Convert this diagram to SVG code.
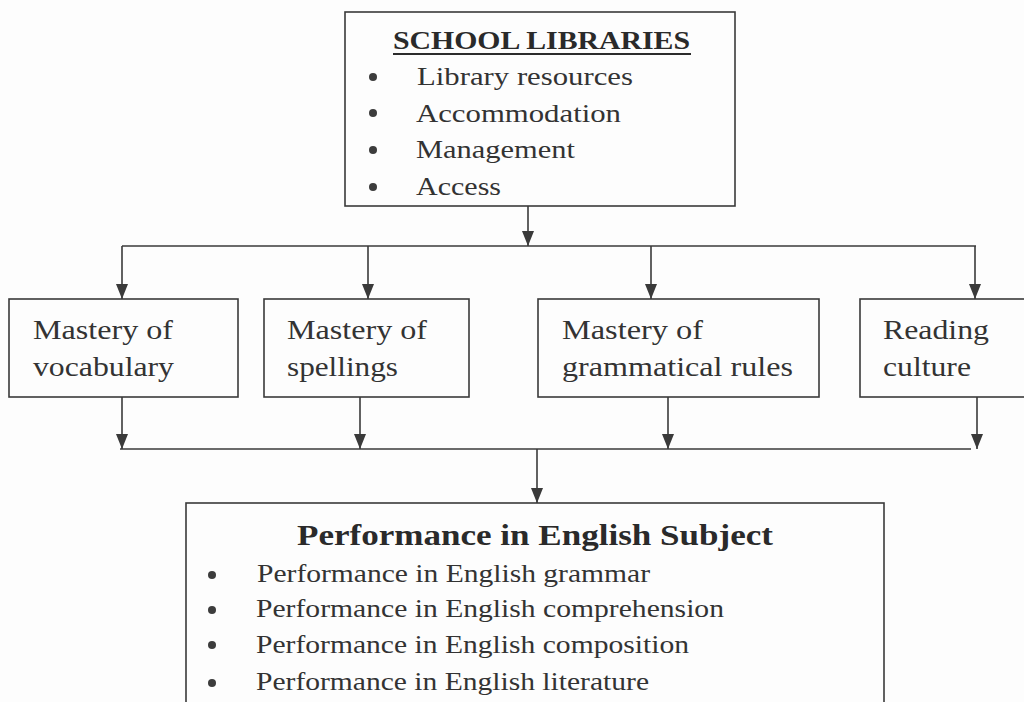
<svg xmlns="http://www.w3.org/2000/svg" width="1024" height="702" viewBox="0 0 1024 702">
  <style>
    .box { fill: none; stroke: #3a3a3a; stroke-width: 1.6; }
    .wire { fill: none; stroke: #3a3a3a; stroke-width: 1.6; }
    text { fill: #333333; }
    .head { font-weight: bold; fill: #2a2a2a; }
    .dot { fill: #3c3c3c; }
  </style>
  <defs>
    <marker id="arrow" markerUnits="userSpaceOnUse" markerWidth="15" markerHeight="12" refX="15" refY="6" orient="auto" viewBox="0 0 15 12">
      <path d="M0,0 L15,6 L0,12 Z" fill="#3a3a3a"/>
    </marker>
  </defs>
  <rect width="1024" height="702" fill="#fdfdfd"/>

  <!-- Connectors -->
  <g id="connectors">
    <line class="wire" x1="528" y1="206" x2="528" y2="246" marker-end="url(#arrow)"/>
    <line class="wire" x1="122" y1="246" x2="976" y2="246"/>
    <line class="wire" x1="122" y1="246" x2="122" y2="299" marker-end="url(#arrow)"/>
    <line class="wire" x1="368" y1="246" x2="368" y2="299" marker-end="url(#arrow)"/>
    <line class="wire" x1="651" y1="246" x2="651" y2="299" marker-end="url(#arrow)"/>
    <line class="wire" x1="975" y1="246" x2="975" y2="299" marker-end="url(#arrow)"/>
    <line class="wire" x1="122" y1="397" x2="122" y2="449" marker-end="url(#arrow)"/>
    <line class="wire" x1="360" y1="397" x2="360" y2="449" marker-end="url(#arrow)"/>
    <line class="wire" x1="668" y1="397" x2="668" y2="449" marker-end="url(#arrow)"/>
    <line class="wire" x1="977" y1="397" x2="977" y2="449" marker-end="url(#arrow)"/>
    <line class="wire" x1="120" y1="449" x2="971" y2="449"/>
    <line class="wire" x1="537" y1="449" x2="537" y2="503" marker-end="url(#arrow)"/>
  </g>

  <g font-family="'Liberation Serif', Tinos, 'Times New Roman', Times, serif">
    <!-- School libraries -->
    <g id="school-libraries">
      <rect class="box" x="345" y="12" width="390" height="194"/>
      <text class="head" x="393" y="49" font-size="26" textLength="297" lengthAdjust="spacingAndGlyphs">SCHOOL LIBRARIES</text>
      <line x1="393" y1="54" x2="691" y2="54" stroke="#2c2c2c" stroke-width="1.8"/>
      <circle class="dot" cx="373" cy="77" r="4"/>
      <circle class="dot" cx="373" cy="113" r="4"/>
      <circle class="dot" cx="373" cy="150" r="4"/>
      <circle class="dot" cx="373" cy="187" r="4"/>
      <text x="417" y="85" font-size="25" textLength="216" lengthAdjust="spacingAndGlyphs">Library resources</text>
      <text x="416" y="122" font-size="25" textLength="205" lengthAdjust="spacingAndGlyphs">Accommodation</text>
      <text x="416" y="158" font-size="25" textLength="159" lengthAdjust="spacingAndGlyphs">Management</text>
      <text x="416" y="195" font-size="25" textLength="85" lengthAdjust="spacingAndGlyphs">Access</text>
    </g>

    <!-- Mastery of vocabulary -->
    <g id="vocabulary">
      <rect class="box" x="9" y="299" width="229" height="98"/>
      <text x="33" y="339" font-size="27" textLength="140" lengthAdjust="spacingAndGlyphs">Mastery of</text>
      <text x="33" y="376" font-size="27" textLength="141" lengthAdjust="spacingAndGlyphs">vocabulary</text>
    </g>

    <!-- Mastery of spellings -->
    <g id="spellings">
      <rect class="box" x="264" y="299" width="205" height="98"/>
      <text x="287" y="339" font-size="27" textLength="140" lengthAdjust="spacingAndGlyphs">Mastery of</text>
      <text x="287" y="376" font-size="27" textLength="111" lengthAdjust="spacingAndGlyphs">spellings</text>
    </g>

    <!-- Mastery of grammatical rules -->
    <g id="grammar">
      <rect class="box" x="538" y="299" width="281" height="98"/>
      <text x="562" y="339" font-size="27" textLength="141" lengthAdjust="spacingAndGlyphs">Mastery of</text>
      <text x="562" y="376" font-size="27" textLength="231" lengthAdjust="spacingAndGlyphs">grammatical rules</text>
    </g>

    <!-- Reading culture -->
    <g id="reading">
      <rect class="box" x="860" y="299" width="180" height="98"/>
      <text x="883" y="339" font-size="27" textLength="106" lengthAdjust="spacingAndGlyphs">Reading</text>
      <text x="883" y="376" font-size="27" textLength="88" lengthAdjust="spacingAndGlyphs">culture</text>
    </g>

    <!-- Performance in English subject -->
    <g id="performance">
      <rect class="box" x="186" y="503" width="698" height="220"/>
      <text class="head" x="297" y="545" font-size="30" textLength="476" lengthAdjust="spacingAndGlyphs">Performance in English Subject</text>
      <circle class="dot" cx="212" cy="575" r="4"/>
      <circle class="dot" cx="212" cy="610" r="4"/>
      <circle class="dot" cx="212" cy="645" r="4"/>
      <circle class="dot" cx="212" cy="683" r="4"/>
      <text x="257" y="582" font-size="26" textLength="393" lengthAdjust="spacingAndGlyphs">Performance in English grammar</text>
      <text x="256" y="617" font-size="26" textLength="468" lengthAdjust="spacingAndGlyphs">Performance in English comprehension</text>
      <text x="256" y="653" font-size="26" textLength="433" lengthAdjust="spacingAndGlyphs">Performance in English composition</text>
      <text x="256" y="690" font-size="26" textLength="393" lengthAdjust="spacingAndGlyphs">Performance in English literature</text>
    </g>
  </g>
</svg>
